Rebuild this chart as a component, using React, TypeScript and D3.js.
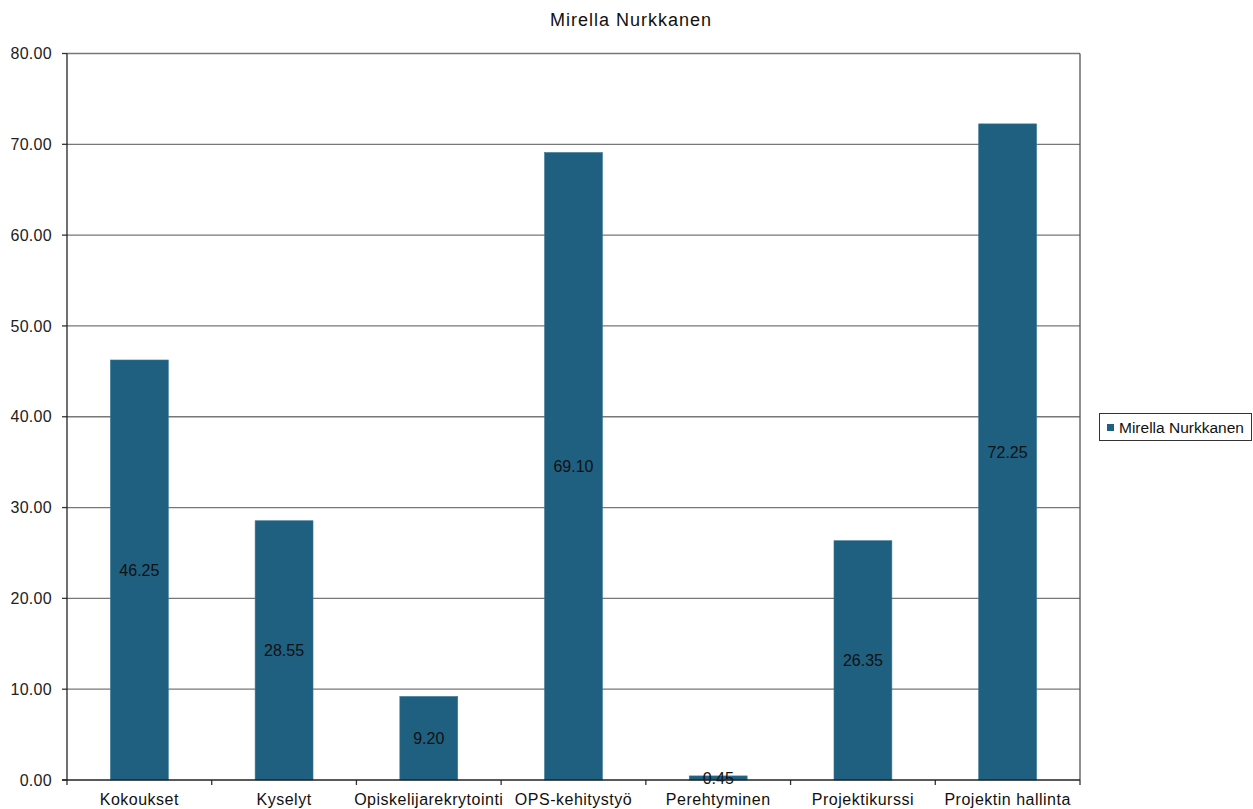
import React from "react";
import * as d3 from "d3";

const categories = ["Kokoukset", "Kyselyt", "Opiskelijarekrytointi", "OPS-kehitystyö", "Perehtyminen", "Projektikurssi", "Projektin hallinta"];
const values = [46.25, 28.55, 9.2, 69.1, 0.45, 26.35, 72.25];
const yTicks = [0, 10, 20, 30, 40, 50, 60, 70, 80];
const seriesName = "Mirella Nurkkanen";
const title = "Mirella Nurkkanen";

const W = 1253, H = 809;
const M = { left: 67, right: 1080, top: 53.5, bottom: 780 };
const BAR = "#1f5f7f";
const FONT = "'Liberation Sans', Arial, sans-serif";

export default function App() {
  const x = d3.scaleBand<string>().domain(categories).range([M.left, M.right]).paddingInner(0).paddingOuter(0);
  const y = d3.scaleLinear().domain([0, 80]).range([M.bottom, M.top]);
  const bw = x.bandwidth() * 0.4;
  return (
    <svg width={W} height={H} style={{ position: "absolute", left: 0, top: 0, background: "#fff" }} fontFamily={FONT}>
      <rect x={0} y={0} width={W} height={H} fill="#fff" />
      <text x={631} y={26} textAnchor="middle" fontSize={18} letterSpacing={1} fill="#111">{title}</text>
      {yTicks.map((t) => (
        <g key={t}>
          {t > 0 && <line x1={M.left} x2={M.right} y1={y(t)} y2={y(t)} stroke="#777" strokeWidth={1.3} />}
          <line x1={M.left - 5} x2={M.left} y1={y(t)} y2={y(t)} stroke="#333" strokeWidth={1.3} />
          <text x={52} y={y(t)} dy="0.35em" textAnchor="end" fontSize={16} letterSpacing={0.3} fill="#222">{t.toFixed(2)}</text>
        </g>
      ))}
      {categories.map((c, i) => {
        const cx = x(c)! + x.bandwidth() / 2;
        const v = values[i];
        return (
          <g key={c}>
            <rect x={cx - bw / 2} y={y(v)} width={bw} height={y(0) - y(v)} fill={BAR} stroke="#3a7896" strokeWidth={0.6} />
            <text x={cx} y={(y(v) + y(0)) / 2} dy="0.35em" textAnchor="middle" fontSize={16} fill="#111">{v.toFixed(2)}</text>
            <text x={cx} y={799} dy="0.35em" textAnchor="middle" fontSize={16} letterSpacing={0.5} fill="#111">{c}</text>
          </g>
        );
      })}
      {categories.map((c, i) => (
        <line key={"t" + i} x1={x(c)!} x2={x(c)!} y1={M.bottom} y2={M.bottom + 5} stroke="#333" strokeWidth={1.3} />
      ))}
      <line x1={M.right} x2={M.right} y1={M.bottom} y2={M.bottom + 5} stroke="#333" strokeWidth={1.3} />
      <line x1={M.right} x2={M.right} y1={M.top} y2={M.bottom} stroke="#555" strokeWidth={1.3} />
      <line x1={M.left} x2={M.left} y1={M.top} y2={M.bottom} stroke="#222" strokeWidth={1.3} />
      <line x1={M.left - 5} x2={M.right} y1={M.bottom} y2={M.bottom} stroke="#222" strokeWidth={1.3} />
      <g>
        <rect x={1099.5} y={413.5} width={152} height={27} fill="#fff" stroke="#333" strokeWidth={1} />
        <rect x={1107} y={424} width={7} height={7} fill={BAR} />
        <text x={1119} y={427.5} dy="0.35em" fontSize={15.5} fill="#111">{seriesName}</text>
      </g>
    </svg>
  );
}
